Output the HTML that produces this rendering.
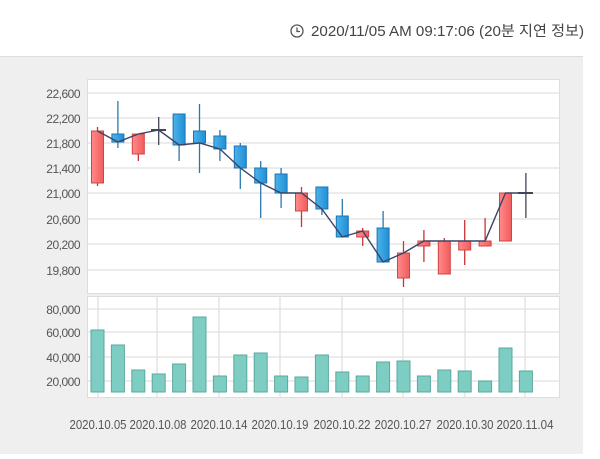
<!DOCTYPE html>
<html><head><meta charset="utf-8"><style>
body{margin:0;width:600px;height:454px;background:#fff;overflow:hidden;font-family:"Liberation Sans","Noto Sans CJK KR",sans-serif}
</style></head><body>
<svg width="600" height="454" xmlns="http://www.w3.org/2000/svg" font-family="Liberation Sans, Noto Sans CJK KR, sans-serif">
<defs>
<linearGradient id="r" x1="0" x2="1"><stop offset="0" stop-color="#ff8a8a"/><stop offset="1" stop-color="#f25c5c"/></linearGradient>
<linearGradient id="b" x1="0" x2="1"><stop offset="0" stop-color="#4bb3ea"/><stop offset="1" stop-color="#1f8fd6"/></linearGradient>
</defs>
<rect x="0" y="56" width="583" height="398" fill="#efefef"/>
<line x1="0" y1="56.5" x2="583" y2="56.5" stroke="#ddd"/>
<circle cx="297" cy="31" r="6" fill="none" stroke="#555" stroke-width="1.3"/>
<path d="M297 27.5V31.5H300" fill="none" stroke="#555" stroke-width="1.3"/>
<text x="311" y="36" font-size="14.5" fill="#444" textLength="273" lengthAdjust="spacingAndGlyphs">2020/11/05 AM 09:17:06 (20분 지연 정보)</text>
<!-- price panel -->
<rect x="87.5" y="79.5" width="472" height="214" fill="#fff" stroke="#ddd"/>
<g stroke="#e0e0e0" stroke-width="1.3">
<line x1="88" y1="93" x2="559" y2="93"/><line x1="88" y1="118" x2="559" y2="118"/><line x1="88" y1="143" x2="559" y2="143"/><line x1="88" y1="168" x2="559" y2="168"/><line x1="88" y1="193" x2="559" y2="193"/><line x1="88" y1="219" x2="559" y2="219"/><line x1="88" y1="244" x2="559" y2="244"/><line x1="88" y1="270" x2="559" y2="270"/>
</g>
<g font-size="12" fill="#555" text-anchor="end" letter-spacing="-0.5">
<text x="80" y="98">22,600</text><text x="80" y="123">22,200</text><text x="80" y="148">21,800</text><text x="80" y="173">21,400</text><text x="80" y="198">21,000</text><text x="80" y="224">20,600</text><text x="80" y="249">20,200</text><text x="80" y="275">19,800</text>
<text x="80" y="314">80,000</text><text x="80" y="337">60,000</text><text x="80" y="362">40,000</text><text x="80" y="386">20,000</text>
</g>
<g stroke-width="1.3">
<line x1="97.5" y1="127" x2="97.5" y2="186" stroke="#c33"/>
<line x1="117.9" y1="101" x2="117.9" y2="148" stroke="#2a78b0"/>
<line x1="138.3" y1="134" x2="138.3" y2="161" stroke="#c33"/>
<line x1="158.7" y1="117" x2="158.7" y2="145" stroke="#445"/>
<line x1="179.1" y1="114" x2="179.1" y2="161" stroke="#2a78b0"/>
<line x1="199.5" y1="104" x2="199.5" y2="173" stroke="#2a78b0"/>
<line x1="219.9" y1="130" x2="219.9" y2="161" stroke="#2a78b0"/>
<line x1="240.3" y1="143" x2="240.3" y2="189" stroke="#2a78b0"/>
<line x1="260.7" y1="161" x2="260.7" y2="218" stroke="#2a78b0"/>
<line x1="281.1" y1="168" x2="281.1" y2="208" stroke="#2a78b0"/>
<line x1="301.5" y1="187" x2="301.5" y2="227" stroke="#c33"/>
<line x1="321.9" y1="187" x2="321.9" y2="215" stroke="#2a78b0"/>
<line x1="342.3" y1="199" x2="342.3" y2="237" stroke="#2a78b0"/>
<line x1="362.7" y1="228" x2="362.7" y2="246" stroke="#c33"/>
<line x1="383.1" y1="211" x2="383.1" y2="262" stroke="#2a78b0"/>
<line x1="403.5" y1="241" x2="403.5" y2="287" stroke="#c33"/>
<line x1="423.9" y1="230" x2="423.9" y2="262" stroke="#c33"/>
<line x1="444.3" y1="238" x2="444.3" y2="274" stroke="#c33"/>
<line x1="464.7" y1="220" x2="464.7" y2="265" stroke="#c33"/>
<line x1="485.1" y1="218" x2="485.1" y2="246" stroke="#c33"/>
<line x1="505.5" y1="193" x2="505.5" y2="241" stroke="#c33"/>
<line x1="525.9" y1="173" x2="525.9" y2="218" stroke="#445"/>
</g>
<g stroke-width="1">
<rect x="91.5" y="131" width="12" height="52" fill="url(#r)" stroke="#d04444"/>
<rect x="111.9" y="134" width="12" height="8" fill="url(#b)" stroke="#1a75b5"/>
<rect x="132.3" y="134" width="12" height="20" fill="url(#r)" stroke="#d04444"/>
<rect x="173.1" y="114" width="12" height="31" fill="url(#b)" stroke="#1a75b5"/>
<rect x="193.5" y="131" width="12" height="12" fill="url(#b)" stroke="#1a75b5"/>
<rect x="213.9" y="136" width="12" height="13" fill="url(#b)" stroke="#1a75b5"/>
<rect x="234.3" y="146" width="12" height="22" fill="url(#b)" stroke="#1a75b5"/>
<rect x="254.7" y="168" width="12" height="15" fill="url(#b)" stroke="#1a75b5"/>
<rect x="275.1" y="174" width="12" height="19" fill="url(#b)" stroke="#1a75b5"/>
<rect x="295.5" y="193" width="12" height="18" fill="url(#r)" stroke="#d04444"/>
<rect x="315.9" y="187" width="12" height="22" fill="url(#b)" stroke="#1a75b5"/>
<rect x="336.3" y="216" width="12" height="21" fill="url(#b)" stroke="#1a75b5"/>
<rect x="356.7" y="231" width="12" height="6" fill="url(#r)" stroke="#d04444"/>
<rect x="377.1" y="228" width="12" height="34" fill="url(#b)" stroke="#1a75b5"/>
<rect x="397.5" y="253" width="12" height="25" fill="url(#r)" stroke="#d04444"/>
<rect x="417.9" y="241" width="12" height="5" fill="url(#r)" stroke="#d04444"/>
<rect x="438.3" y="241" width="12" height="33" fill="url(#r)" stroke="#d04444"/>
<rect x="458.7" y="241" width="12" height="9" fill="url(#r)" stroke="#d04444"/>
<rect x="479.1" y="241" width="12" height="5" fill="url(#r)" stroke="#d04444"/>
<rect x="499.5" y="193" width="12" height="48" fill="url(#r)" stroke="#d04444"/>
<line x1="151" y1="130" x2="166" y2="130" stroke="#445" stroke-width="2"/>
<line x1="518" y1="193" x2="533" y2="193" stroke="#445" stroke-width="2"/>
</g>
<polyline fill="none" stroke="#3d4466" stroke-width="1.4" points="97.5,131 117.9,142 138.3,134 158.7,130 179.1,145 199.5,143 219.9,149 240.3,168 260.7,183 281.1,193 301.5,193 321.9,209 342.3,237 362.7,231 383.1,262 403.5,253 423.9,241 444.3,241 464.7,241 485.1,241 505.5,193 525.9,193"/>
<rect x="87.5" y="296.5" width="472" height="101" fill="#fff" stroke="#ddd"/>
<g stroke="#e0e0e0" stroke-width="1.3">
<line x1="88" y1="309" x2="559" y2="309"/><line x1="88" y1="332" x2="559" y2="332"/><line x1="88" y1="357" x2="559" y2="357"/><line x1="88" y1="381" x2="559" y2="381"/>
<line x1="98" y1="297" x2="98" y2="397"/><line x1="157" y1="297" x2="157" y2="397"/><line x1="219" y1="297" x2="219" y2="397"/><line x1="280" y1="297" x2="280" y2="397"/><line x1="342" y1="297" x2="342" y2="397"/><line x1="403" y1="297" x2="403" y2="397"/><line x1="465" y1="297" x2="465" y2="397"/><line x1="525" y1="297" x2="525" y2="397"/>
</g>
<g fill="#7ecdc3" stroke="#5aa99f" stroke-width="1">
<rect x="91" y="330" width="13" height="62"/>
<rect x="111.4" y="345" width="13" height="47"/>
<rect x="131.8" y="370" width="13" height="22"/>
<rect x="152.2" y="374" width="13" height="18"/>
<rect x="172.6" y="364" width="13" height="28"/>
<rect x="193" y="317" width="13" height="75"/>
<rect x="213.4" y="376" width="13" height="16"/>
<rect x="233.8" y="355" width="13" height="37"/>
<rect x="254.2" y="353" width="13" height="39"/>
<rect x="274.6" y="376" width="13" height="16"/>
<rect x="295" y="377" width="13" height="15"/>
<rect x="315.4" y="355" width="13" height="37"/>
<rect x="335.8" y="372" width="13" height="20"/>
<rect x="356.2" y="376" width="13" height="16"/>
<rect x="376.6" y="362" width="13" height="30"/>
<rect x="397" y="361" width="13" height="31"/>
<rect x="417.4" y="376" width="13" height="16"/>
<rect x="437.8" y="370" width="13" height="22"/>
<rect x="458.2" y="371" width="13" height="21"/>
<rect x="478.6" y="381" width="13" height="11"/>
<rect x="499" y="348" width="13" height="44"/>
<rect x="519.4" y="371" width="13" height="21"/>
</g>
<g font-size="12.5" fill="#555" text-anchor="middle">
<text x="98" y="429" textLength="57" lengthAdjust="spacingAndGlyphs">2020.10.05</text><text x="158" y="429" textLength="57" lengthAdjust="spacingAndGlyphs">2020.10.08</text><text x="219" y="429" textLength="57" lengthAdjust="spacingAndGlyphs">2020.10.14</text><text x="280" y="429" textLength="57" lengthAdjust="spacingAndGlyphs">2020.10.19</text><text x="342" y="429" textLength="57" lengthAdjust="spacingAndGlyphs">2020.10.22</text><text x="403" y="429" textLength="57" lengthAdjust="spacingAndGlyphs">2020.10.27</text><text x="465" y="429" textLength="57" lengthAdjust="spacingAndGlyphs">2020.10.30</text><text x="525" y="429" textLength="57" lengthAdjust="spacingAndGlyphs">2020.11.04</text>
</g>
</svg>
</body></html>
